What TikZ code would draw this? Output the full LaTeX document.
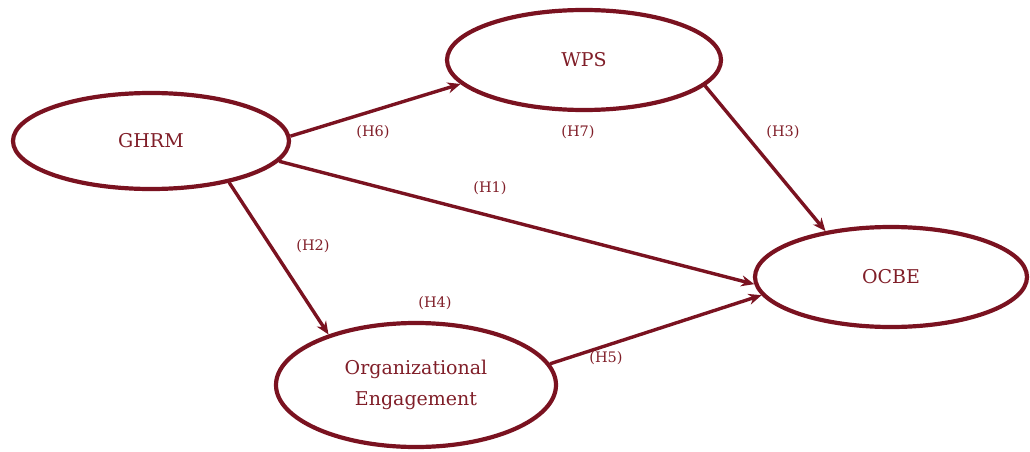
\documentclass[tikz,border=0pt]{standalone}
\usepackage{fontspec}
\setmainfont{DejaVu Serif}
\usetikzlibrary{shapes.geometric,arrows.meta}
\definecolor{dred}{RGB}{122,18,32}
\definecolor{tred}{RGB}{128,30,40}
\begin{document}
\begin{tikzpicture}[x=1pt,y=-1pt,
  var/.style={ellipse,draw=dred,line width=4.2pt,inner sep=0pt,text=tred,font=\fontsize{19}{31}\selectfont,align=center},
  path/.style={draw=dred,line width=3.4pt,-{Stealth[length=13pt,width=11pt]}},
  hyp/.style={text=tred,font=\fontsize{14.5}{16}\selectfont,inner sep=0pt}]
\useasboundingbox (0,0) rectangle (1030,452);
\node[var,minimum width=276,minimum height=96] (ghrm) at (151,141) {GHRM};
\node[var,minimum width=274,minimum height=100] (wps) at (584,60) {WPS};
\node[var,minimum width=272,minimum height=100] (ocbe) at (891,277) {OCBE};
\node[var,minimum width=280,minimum height=124] (oe) at (416,385) {Organizational\\Engagement};
\draw[path] (ghrm.2.5) -- (wps.191.6);
\draw[path] (wps.-12) -- (ocbe.145.4);
\draw[path] (ghrm.-9.5) -- (ocbe.183);
\draw[path] (ghrm.-28.5) -- (oe.150.5);
\draw[path] (oe.9.7) -- (ocbe.188);
\node[hyp] (h6) at (373,132) {(H6)};
\node[hyp] (h7) at (578,132) {(H7)};
\node[hyp] (h3) at (783,132) {(H3)};
\node[hyp] (h1) at (490,188) {(H1)};
\node[hyp] (h2) at (313,246) {(H2)};
\node[hyp] (h4) at (435,303) {(H4)};
\node[hyp] (h5) at (606,358) {(H5)};
\end{tikzpicture}
\end{document}
